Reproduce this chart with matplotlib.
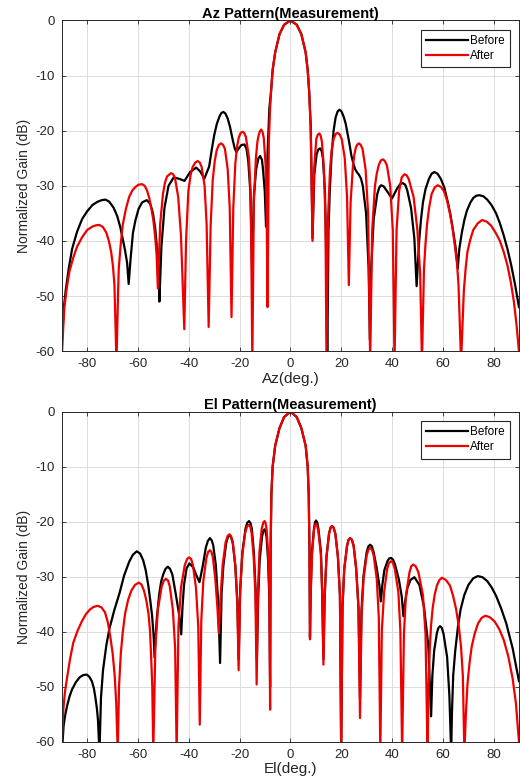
import numpy as np
import matplotlib
matplotlib.use("Agg")
import matplotlib.pyplot as plt

plt.rcParams['font.family'] = ['Liberation Sans', 'DejaVu Sans']
plt.rcParams['font.size'] = 8
plt.rcParams['axes.unicode_minus'] = False

# (angle deg, normalized gain dB)
az_before = [
  (-90, -58), (-89.2, -52), (-88.5, -49), (-87.3, -45), (-86, -41.5), (-84, -38.3), (-82, -36), (-80, -34.6),
  (-78, -33.5), (-76, -32.9), (-74.3, -32.6), (-72.8, -32.5), (-71.3, -32.9), (-69.6, -34.0), (-68.2, -35.5),
  (-67, -37.5), (-65.2, -41.5), (-64.3, -44), (-63.7, -47.8),
  (-62.9, -43), (-62.0, -38.5), (-61, -36.2), (-59.8, -34.2), (-58.4, -33.0), (-56.6, -32.6), (-55.3, -33.2),
  (-54.2, -34.8), (-53.3, -37.5), (-52.5, -41.5), (-51.9, -45), (-51.6, -51),
  (-50.8, -41), (-49.6, -34), (-48, -30), (-46, -28.5), (-44, -28.7), (-41.7, -29.1), (-39.5, -27.5), (-37.1, -26.7),
  (-35.5, -27.4), (-33.9, -28.7), (-32, -26.5), (-31, -23.5), (-30, -20.8), (-29, -18.8), (-28, -17.5),
  (-27.2, -16.8), (-26.4, -16.6), (-25.6, -16.9), (-24.7, -17.8), (-23.8, -19.3), (-22.8, -21.5), (-22, -23.1),
  (-21.3, -23.9), (-20.5, -23.3), (-19.3, -22.6), (-18.1, -22.5), (-17.3, -23.3), (-16.6, -25.5),
  (-15.8, -31), (-15.1, -45), (-14.4, -32), (-13.5, -27), (-12.6, -25), (-11.9, -24.6), (-11.2, -25.3), (-10.8, -27),
  (-10.1, -31), (-9.6, -37.4),
  (-9.0, -24), (-8.3, -16), (-7.6, -12.7), (-7, -9), (-6, -5.8), (-4.3, -2.5), (-2.5, -0.8), (0, 0),
  (2.5, -0.8), (4.3, -2.5), (6, -5.8), (6.8, -9), (7.4, -13), (8, -19), (8.7, -39.5),
  (9.4, -28), (10.3, -24.3), (11.0, -23.4), (11.7, -23.2), (12.3, -23.7), (12.8, -25), (13.6, -31), (14.2, -45),
  (14.5, -62),
  (15.0, -38), (15.5, -31), (16.2, -24.5), (17, -20), (17.8, -17.6), (18.6, -16.5), (19.3, -16.2), (20.1, -16.5),
  (21, -17.5), (21.8, -18.8), (22.5, -20.5), (23.3, -22.5), (24, -24.5), (24.8, -26), (25.5, -27), (26.3, -27.6),
  (27, -28), (27.8, -28.7), (28.5, -30), (29.8, -35), (30.8, -45), (31.3, -58), (31.8, -45), (32.8, -36),
  (34.2, -31.5), (35, -30.3), (35.7, -29.9), (36.7, -30.1), (37.8, -30.8), (40, -32.3), (42, -30.5), (43.2, -29.7),
  (44.2, -29.5), (45.2, -29.8), (46, -30.8), (47.5, -34), (48.8, -39.5), (49.7, -48.2),
  (50.7, -40), (51.4, -36.2), (52.2, -33), (53.2, -30.6), (54.5, -28.8), (55.6, -27.8), (56.7, -27.5),
  (57.9, -27.8), (59.2, -28.7), (60.6, -30.3), (62, -33), (63, -35.2), (64, -38), (65, -41), (65.9, -45),
  (66.5, -41.5), (67.5, -38.5), (68.5, -36.2), (69.5, -34.5), (70.8, -33.1), (72, -32.2), (73.2, -31.8),
  (74.4, -31.7), (76, -31.9), (77.5, -32.5), (79.2, -33.5), (81, -35), (82.5, -36.8), (84, -39), (85.5, -41.5),
  (87, -44.5), (88.5, -48), (90, -52),
]
az_after = [
  (-90, -61), (-89.5, -56), (-89, -52), (-88, -48.3), (-87, -45.5), (-85.5, -43), (-84, -41), (-82, -39.3),
  (-80, -38), (-78, -37.4), (-76.5, -37.15), (-75.2, -37.1), (-73.8, -37.5), (-72.5, -38.5), (-71.5, -40),
  (-70.6, -42), (-69.9, -44.5), (-69.3, -48), (-68.5, -62),
  (-67.9, -50), (-67.6, -45), (-66.8, -40.5), (-66, -37), (-64.8, -34.2), (-63.5, -32), (-62.2, -30.8),
  (-61, -30.2), (-59.8, -29.8), (-58.4, -29.7), (-57.4, -30), (-56.5, -30.8), (-55.6, -32.2), (-54.8, -34),
  (-54, -36.2), (-53.3, -39), (-52.7, -42.5), (-52.2, -48.6),
  (-51.3, -37), (-50.2, -31.5), (-49.4, -29.4), (-48.6, -28.3), (-47, -27.7), (-46.2, -27.9),
  (-45.5, -28.5), (-44.2, -32), (-43.1, -39), (-41.8, -56), (-41.1, -40), (-40.2, -31), (-39.3, -28),
  (-38.5, -26.6), (-37.5, -25.8), (-36.5, -25.5), (-35.7, -25.8), (-35, -26.5), (-33.8, -30), (-33, -37),
  (-32.2, -55.6), (-31.4, -37), (-30.6, -29), (-29.8, -25.5), (-29, -23.5), (-28.2, -22.6),
  (-27.3, -22.3), (-26.5, -22.6), (-25.8, -23.3), (-24.7, -27), (-23.9, -34), (-23.2, -53.8), (-22.5, -34),
  (-21.7, -26), (-21, -22.8), (-20.3, -21.2), (-19.6, -20.4), (-18.9, -20.2), (-18.2, -20.4), (-17.5, -21.2),
  (-16.3, -25), (-15.6, -32), (-15.0, -62), (-14.4, -33),
  (-13.6, -25), (-13, -22), (-12.5, -20.8), (-12, -20.1), (-11.5, -19.8), (-11, -20.2), (-10.5, -21.3),
  (-9.8, -26), (-9.4, -33), (-9.0, -52),
  (-8.5, -22), (-8, -16), (-7.6, -12.7), (-7, -9), (-6, -5.8), (-4.3, -2.5), (-2.5, -0.8), (0, 0),
  (2.5, -0.8), (4.3, -2.5), (6, -5.8), (6.8, -9), (7.4, -13), (8, -20), (8.7, -40),
  (9.3, -27), (10.2, -21.5), (10.8, -20.7), (11.4, -20.5), (11.9, -20.9), (12.4, -22), (13.2, -27),
  (13.8, -36), (14.2, -62), (14.8, -36),
  (15.6, -27), (16.3, -23.3), (17, -21.5), (17.8, -20.6), (18.6, -20.4), (19.4, -20.7), (20.2, -21.5),
  (21.4, -25), (22.3, -32), (23, -48), (23.7, -33),
  (24.6, -26.5), (25.2, -24.3), (25.8, -23), (26.4, -22.5), (27.0, -22.3), (27.7, -22.6), (28.4, -23.3),
  (29.6, -27), (30.6, -35), (31.4, -62), (32.2, -38),
  (33.3, -30), (34, -27.8), (34.8, -26.2), (35.6, -25.4), (36.4, -25.2), (37.2, -25.5), (38, -26.3),
  (39.3, -30), (40.3, -38), (41, -62), (41.8, -38),
  (42.8, -31), (43.8, -28.5), (44.9, -27.9), (45.8, -28.1), (46.6, -28.8), (48.5, -32), (50, -38),
  (51.1, -46), (51.8, -62),
  (52.6, -45), (53.2, -40.5), (53.8, -37), (54.6, -34), (55.6, -31.5), (56.8, -30.3), (58, -29.9),
  (59.3, -30.2), (60.5, -31), (61.7, -32.7), (62.8, -35), (63.9, -37.8), (64.8, -41), (65.6, -44),
  (66.2, -48), (67.2, -62),
  (67.8, -55), (68.3, -49), (69, -45), (69.7, -42), (70.8, -39.8), (72, -38), (73.8, -36.8), (75.5, -36.2),
  (77.3, -36.5), (79, -37.2), (80.8, -38.5), (82.5, -40), (84, -42), (85.5, -44.5), (86.8, -47.5), (88, -51),
  (89, -55), (90, -60),
]
el_before = [
  (-90, -62), (-89.6, -59), (-89.3, -57), (-88.7, -55.2), (-88, -53.6), (-87, -51.8), (-86, -50.5),
  (-84.5, -49.2), (-83, -48.3), (-81.6, -47.9), (-80.2, -47.8), (-79.2, -48.2), (-78.2, -49), (-77.4, -50.3),
  (-76.8, -52), (-76.2, -54), (-75.8, -56), (-75.2, -62),
  (-74.6, -52), (-73.8, -47), (-72.5, -42.5), (-71.3, -39.5), (-69.3, -36), (-67.3, -33), (-65.5, -29.8),
  (-63.5, -27.3), (-62, -26), (-60.5, -25.4), (-59.2, -25.8), (-58, -27), (-57, -28.8), (-56, -31.5),
  (-55.2, -34.3), (-54.5, -37), (-53.9, -40.5), (-53.5, -44.7),
  (-52.7, -38), (-51.7, -33.3), (-50.9, -30.9), (-50.1, -29.6), (-49.2, -28.6), (-48.3, -28.2), (-47.4, -28.6),
  (-46.5, -29.6), (-45.1, -33.3), (-43.8, -37), (-43, -40.5),
  (-42.5, -35.5), (-41.9, -31.5), (-40.9, -28.5), (-39.8, -27.6), (-38.3, -28.3), (-37, -29.8), (-35.8, -31),
  (-34.5, -28), (-33.3, -24.7), (-32.5, -23.5), (-31.7, -23), (-31, -23.4), (-30.4, -24.3),
  (-29.4, -27.8), (-28.4, -35), (-27.7, -45.7), (-27.1, -33), (-26.4, -28), (-25.3, -23.9), (-24.6, -22.8),
  (-24, -22.5), (-23.4, -22.8), (-22.7, -23.9), (-21.7, -28), (-20.9, -34.5), (-20.4, -45),
  (-19.8, -32.5), (-18.9, -25.5), (-17.7, -21.3), (-17, -20.2), (-16.3, -19.9), (-15.7, -20.3), (-15.2, -21.3),
  (-14.4, -25.5), (-13.7, -32.5), (-13.2, -45),
  (-12.7, -34), (-12.1, -27), (-11.2, -22.8), (-10.7, -21.7), (-10.2, -21.4), (-9.8, -21.8), (-9.4, -22.8),
  (-8.8, -27), (-8.3, -34), (-8.0, -50),
  (-7.8, -25), (-7.5, -15), (-7, -10), (-6, -6.2), (-4.3, -3), (-2.5, -1), (0, 0),
  (2.5, -1), (4.3, -3), (6, -6.2), (6.8, -10), (7.2, -15), (7.5, -25), (7.7, -41),
  (8.0, -32.4), (8.5, -25.4), (9.3, -21.2), (9.7, -20.1), (10.1, -19.8), (10.6, -20.2), (11, -21.2),
  (12, -25.4), (12.5, -32.4), (13, -45),
  (13.5, -33.4), (14.2, -26.4), (15.2, -22.2), (15.8, -21.1), (16.4, -20.8), (17, -21.1), (17.7, -22.2),
  (18.7, -26.4), (19.5, -33.4), (20, -62),
  (20.5, -35.6), (21.2, -28.6), (22.3, -24.4), (22.9, -23.3), (23.5, -23), (24.2, -23.3), (24.9, -24.4),
  (25.9, -28.6), (26.8, -35.6), (27.4, -52),
  (28, -36), (28.8, -29.8), (30, -25.6), (30.7, -24.5), (31.4, -24.2), (32.1, -24.5), (32.8, -25.6),
  (34, -28.5), (35, -31.5), (35.6, -34.5),
  (36.2, -31.5), (37, -28.8), (38.2, -27.2), (38.9, -26.7), (39.6, -26.6), (40.4, -26.9), (41.2, -27.8),
  (42.7, -30.5), (43.8, -33.5), (44.5, -37.2),
  (45.2, -34.5), (46.1, -32), (47.3, -30.6), (48.8, -30.1), (50.8, -31.5), (52.6, -35.5), (54.3, -42.5),
  (55.4, -55.4),
  (55.9, -48), (56.6, -43.5), (57.7, -40.2), (58.3, -39.3), (58.9, -39), (59.6, -39.3), (60.3, -40.4),
  (61.7, -44.6), (62.6, -51.6), (63.3, -62),
  (63.6, -55), (64.1, -48), (64.9, -43.5), (66, -39), (67, -36), (68.5, -33.3), (70.1, -31.5), (72, -30.3),
  (73.8, -29.9), (75.6, -30.1), (77.5, -30.8), (79.3, -32), (81, -33.5), (83, -35.8), (85, -38.5),
  (87.5, -43), (90, -49),
]
el_after = [
  (-90, -60), (-89.4, -54), (-88.8, -51), (-88, -48.5), (-86.8, -45), (-85.5, -42), (-83.8, -39.8),
  (-82, -38), (-80.5, -36.8), (-79, -36), (-77.5, -35.5), (-75.9, -35.3), (-74.4, -35.6), (-73, -36.5),
  (-71.9, -38.3), (-70.9, -41), (-70, -44), (-69.2, -48), (-68.6, -53), (-68, -62),
  (-67.5, -50), (-66.8, -44), (-66, -40), (-65.1, -36.7), (-63.9, -34.2), (-62.6, -32.5), (-61.2, -31.5),
  (-59.7, -31.1), (-58.7, -31.4), (-57.7, -32.5), (-56.8, -34.2), (-55.9, -36.7), (-55.3, -39.8),
  (-54.9, -44), (-54.4, -50), (-54, -62),
  (-53.2, -43), (-52.2, -36), (-50.7, -31.8), (-49.8, -30.7), (-49, -30.4), (-48.2, -30.7), (-47.5, -31.8),
  (-46.3, -36), (-45.4, -43), (-44.8, -62),
  (-44.1, -39), (-43.1, -32), (-41.6, -27.9), (-40.7, -26.8), (-39.9, -26.5), (-39.1, -26.8), (-38.4, -27.9),
  (-37.2, -32), (-36.3, -39), (-35.7, -56.9),
  (-35.1, -38), (-34.3, -30.8), (-33.1, -26.6), (-32.4, -25.5), (-31.7, -25.2), (-31.1, -25.5), (-30.5, -26.6),
  (-29.5, -30.8), (-28.7, -36), (-28.2, -40.3),
  (-27.6, -34.5), (-26.7, -28), (-25.5, -23.7), (-24.7, -22.6), (-24, -22.3), (-23.4, -22.6), (-22.7, -23.7),
  (-21.7, -28), (-20.9, -35), (-20.4, -47),
  (-19.8, -33), (-19, -26.2), (-17.8, -22), (-17.1, -20.9), (-16.4, -20.6), (-15.8, -20.9), (-15.3, -22),
  (-14.5, -26.2), (-13.8, -33), (-13.3, -49.6),
  (-12.8, -32.5), (-12.2, -25.5), (-11.3, -21.3), (-10.7, -20.2), (-10.2, -19.9), (-9.8, -20.2), (-9.4, -21.3),
  (-8.8, -25.5), (-8.3, -32.5), (-8.0, -54.2),
  (-7.8, -25), (-7.5, -15), (-7, -10), (-6, -6.2), (-4.3, -3), (-2.5, -1), (0, 0),
  (2.5, -1), (4.3, -3), (6, -6.2), (6.8, -10), (7.2, -15), (7.5, -25), (7.7, -41.4),
  (8.0, -33), (8.5, -26), (9.2, -21.8), (9.6, -20.7), (10, -20.4), (10.5, -20.7), (11.0, -21.8),
  (12.0, -26), (12.5, -33), (13, -46),
  (13.5, -33.4), (14.2, -26.4), (15.2, -22.2), (15.8, -21.1), (16.4, -20.8), (17, -21.1), (17.7, -22.2),
  (18.7, -26.4), (19.5, -33.4), (20, -62),
  (20.5, -35.6), (21.2, -28.6), (22.3, -24.4), (22.9, -23.3), (23.5, -23), (24.2, -23.3), (24.9, -24.4),
  (25.9, -28.6), (26.8, -35.6), (27.4, -55.7),
  (28, -37.4), (28.8, -30.4), (30, -26.2), (30.7, -25.1), (31.4, -24.8), (32.1, -25.1), (32.8, -26.2),
  (34, -30.4), (34.8, -37.4), (35.4, -62),
  (36, -39.8), (36.9, -32.8), (38.1, -28.6), (38.8, -27.5), (39.6, -27.2), (40.4, -27.5), (41.1, -28.6),
  (42.5, -32.8), (43.3, -39.8), (44, -62),
  (44.7, -40.4), (45.5, -33.4), (46.9, -29.2), (47.6, -28.1), (48.4, -27.8), (49.3, -28.1), (50.4, -29.2),
  (52.2, -33.4), (53.2, -40.4), (54, -62),
  (54.4, -50), (54.9, -42.8), (55.4, -38.8), (56, -35.8), (56.8, -33.3), (57.7, -31.6), (58.7, -30.6),
  (59.7, -30.2), (61.2, -30.6), (62.8, -31.6), (64, -33.4), (65.2, -35.8), (66.3, -39), (67.2, -42.8),
  (67.9, -48), (68.5, -62),
  (69.1, -55), (69.7, -49.7), (70.5, -45.8), (71.4, -42.7), (72.6, -40.3), (73.9, -38.5), (75.3, -37.5),
  (76.8, -37.1), (78.6, -37.4), (80.5, -38.2), (82.3, -39.6), (84, -41.5), (85.8, -44.5), (87.5, -48.5),
  (88.8, -53), (90, -60),
]

xticks = [-80, -60, -40, -20, 0, 20, 40, 60, 80]
yticks = [-60, -50, -40, -30, -20, -10, 0]

fig = plt.figure(figsize=(5.2, 7.84), dpi=100)
ax_az = fig.add_axes([0.119, 0.552, 0.879, 0.422])
ax_el = fig.add_axes([0.119, 0.054, 0.879, 0.421])

panels = [
  (ax_az, az_before, az_after, "Az Pattern(Measurement)", "Az(deg.)"),
  (ax_el, el_before, el_after, "El Pattern(Measurement)", "El(deg.)"),
]

for ax, before, after, title, xlabel in panels:
  b = np.array(before).T
  a = np.array(after).T
  ax.plot(b[0], b[1], color='black', lw=1.6, label='Before')
  ax.plot(a[0], a[1], color='#ee0000', lw=1.6, label='After')
  ax.set_xlim(-90, 90)
  ax.set_ylim(-60, 0)
  ax.set_xticks(xticks)
  ax.set_yticks(yticks)
  ax.grid(True, color='#dcdcdc', lw=0.7)
  ax.set_axisbelow(True)
  ax.tick_params(direction='in', top=True, right=True, length=3, width=0.6,
                 colors='#262626', labelsize=9.5, pad=5)
  for s in ax.spines.values():
    s.set_color('#262626')
    s.set_linewidth(0.7)
  ax.set_title(title, fontsize=10.5, fontweight='bold', pad=2)
  ax.set_xlabel(xlabel, fontsize=11, labelpad=1, color='#262626')
  ax.set_ylabel("Normalized Gain (dB)", fontsize=10, labelpad=3, color='#262626')
  leg = ax.legend(loc='upper right', fontsize=8.5, handlelength=3.6, handletextpad=0.1,
                  borderaxespad=0.8, fancybox=False, framealpha=1, borderpad=0.45,
                  labelspacing=0.25)
  leg.get_frame().set_edgecolor('#262626')
  leg.get_frame().set_linewidth(0.8)

fig.savefig("out.png", dpi=100)
